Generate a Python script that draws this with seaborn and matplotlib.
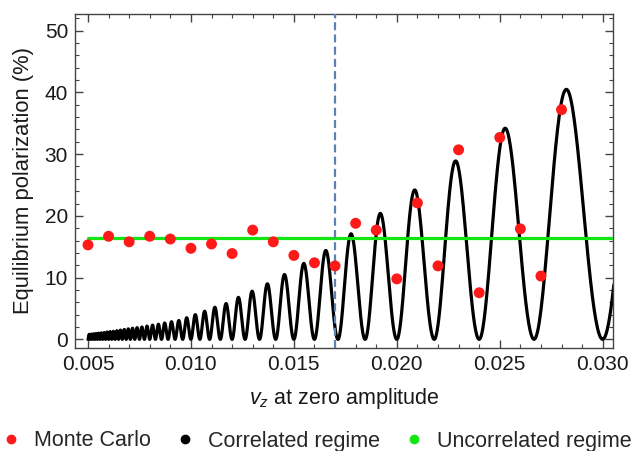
import numpy as np
import pandas as pd
import matplotlib
matplotlib.use("Agg")
import matplotlib.pyplot as plt
import seaborn as sns
from matplotlib.lines import Line2D
from matplotlib.ticker import MultipleLocator, FormatStrFormatter

# ---------------- data ----------------
mc_v = [0.005, 0.006, 0.007, 0.008, 0.009, 0.010, 0.011, 0.012, 0.013, 0.014,
        0.015, 0.016, 0.017, 0.018, 0.019, 0.020, 0.021, 0.022, 0.023, 0.024,
        0.025, 0.026, 0.027, 0.028]
mc_pol = [15.3, 16.7, 15.8, 16.7, 16.25, 14.75, 15.45, 13.9, 17.7, 15.8,
          13.6, 12.4, 11.9, 18.8, 17.7, 9.8, 22.1, 11.9, 30.7, 7.55,
          32.7, 17.9, 10.25, 37.2]

# correlated regime: zeros of the oscillating curve and the height of each hump between them
corr_zeros = [0.005, 0.005106, 0.005217, 0.005333, 0.005455, 0.005581, 0.005714,
              0.005854, 0.006, 0.006154, 0.006316, 0.006486, 0.006667, 0.006857,
              0.007059, 0.007273, 0.0075, 0.007742, 0.008, 0.008276, 0.008571,
              0.008889, 0.009231, 0.0096, 0.010, 0.010435, 0.010909, 0.011429,
              0.012, 0.012632, 0.013333, 0.014118, 0.015, 0.016, 0.017143,
              0.018462, 0.020, 0.021818, 0.024, 0.026667, 0.030, 0.034286]
corr_peaks = [0.8, 0.85, 0.9, 0.95, 1.0, 1.05, 1.1, 1.2, 1.25, 1.3,
              1.4, 1.5, 1.6, 1.7, 1.8, 1.9, 2.0, 2.15, 2.3, 2.45,
              2.65, 2.85, 3.05, 3.5, 4.0, 4.55, 5.2, 5.8, 6.8, 7.8,
              9.0, 10.5, 12.3, 14.4, 17.1, 20.4, 24.2, 28.9, 34.2, 40.5, 47.5]

uncorr_v = [0.005, 0.0306]
uncorr_pol = [16.4, 16.4]
threshold_v = 0.017

# ---------------- build the curve table ----------------
xs_all, ys_all = [], []
for z0, z1, h in zip(corr_zeros[:-1], corr_zeros[1:], corr_peaks):
    xs = np.linspace(z0, z1, 80)
    phase = (1 / xs - 1 / z0) / (1 / z1 - 1 / z0)
    xs_all.append(xs)
    ys_all.append(h * np.sin(np.pi * phase) ** 2)
curve = pd.DataFrame({"v": np.concatenate(xs_all), "pol": np.concatenate(ys_all)})
mc = pd.DataFrame({"v": mc_v, "pol": mc_pol})
unc = pd.DataFrame({"v": uncorr_v, "pol": uncorr_pol})

# ---------------- style ----------------
sns.set_theme(style="ticks")
plt.rcParams["font.family"] = ["Liberation Sans", "DejaVu Sans"]
plt.rcParams["mathtext.fontset"] = "custom"
plt.rcParams["mathtext.it"] = "Liberation Sans:italic"
plt.rcParams["mathtext.rm"] = "Liberation Sans"

fig = plt.figure(figsize=(6.31, 4.51), dpi=100)
ax = fig.add_axes([75 / 631, 1 - 348 / 451, (613 - 75) / 631, (348 - 14) / 451])

sns.lineplot(data=curve, x="v", y="pol", sort=False, estimator=None,
             color="black", linewidth=2.3, ax=ax, zorder=2)
sns.lineplot(data=unc, x="v", y="pol", sort=False, estimator=None,
             color="#14e614", linewidth=2.3, ax=ax, zorder=3)
ax.axvline(threshold_v, color="#5e81b5", linewidth=1.6, dashes=(3.6, 1.9), zorder=4)
sns.scatterplot(data=mc, x="v", y="pol", color="#ff1a1a", s=62,
                edgecolor="none", ax=ax, zorder=5)

ax.set_xlim(0.00437, 0.0305)
ax.set_ylim(-1.4, 52.7)

ax.xaxis.set_major_locator(MultipleLocator(0.005))
ax.xaxis.set_minor_locator(MultipleLocator(0.001))
ax.xaxis.set_major_formatter(FormatStrFormatter("%.3f"))
ax.yaxis.set_major_locator(MultipleLocator(10))
ax.yaxis.set_minor_locator(MultipleLocator(2))

for s in ax.spines.values():
    s.set_color("#444444")
    s.set_linewidth(1.0)
    s.set_visible(True)
ax.tick_params(which="both", direction="in", top=True, right=True,
               color="#444444", labelcolor="#1a1a1a", labelsize=15)
ax.tick_params(which="major", length=5.5, width=1.0, pad=5)
ax.tick_params(which="minor", length=3, width=0.8)

ax.set_xlabel(r"$v_z$ at zero amplitude", fontsize=15.5, color="#1a1a1a", labelpad=9)
ax.set_ylabel("Equilibrium polarization (%)", fontsize=15.8, color="#1a1a1a", labelpad=8)

handles = [Line2D([], [], linestyle="none", marker="o", markersize=6, color="#ff1a1a"),
           Line2D([], [], linestyle="none", marker="o", markersize=6, color="black"),
           Line2D([], [], linestyle="none", marker="o", markersize=6, color="#14e614")]
labels = ["Monte Carlo", "Correlated regime", "Uncorrelated regime"]
fig.legend(handles, labels, loc="center left", bbox_to_anchor=(2.5 / 631, 1 - 441 / 451),
           ncol=3, frameon=False, fontsize=15.5, handlelength=0.8, handletextpad=0.67,
           columnspacing=1.18, borderpad=0, borderaxespad=0)

fig.savefig("out.png", dpi=100)
